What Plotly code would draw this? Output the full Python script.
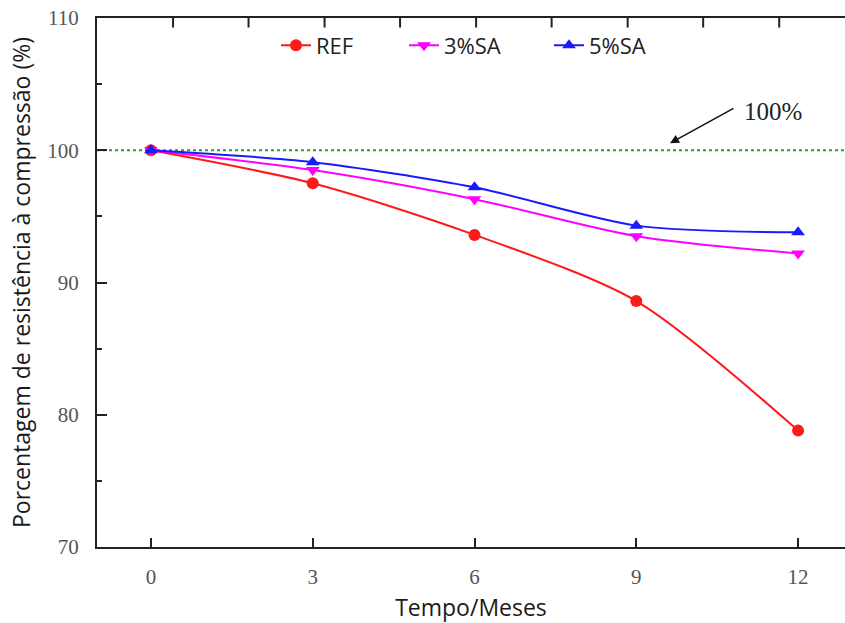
import plotly.graph_objects as go

months = [0, 3, 6, 9, 12]
ref = [100.0, 97.5, 93.6, 88.6, 78.8]
sa3 = [100.0, 98.5, 96.3, 93.5, 92.2]
sa5 = [100.0, 99.1, 97.2, 94.3, 93.8]
x_ticks = [0, 3, 6, 9, 12]
y_ticks = [70, 80, 90, 100, 110]
top_ticks = [0.41, 1.81, 3.22, 4.62, 6.03, 7.43, 8.84, 10.24, 11.65]

fig = go.Figure()

# 100% reference line
fig.add_trace(go.Scatter(x=[-1.0, 12.87], y=[100, 100], mode="lines",
                         line=dict(color="#2e9b2e", width=2, dash="dot"),
                         showlegend=False, hoverinfo="skip"))

series = [
    ("REF", ref, "#ff1a1a", "circle", "legend"),
    ("3%SA", sa3, "#ff00ff", "triangle-down", "legend2"),
    ("5%SA", sa5, "#1a1aff", "triangle-up", "legend3"),
]
for name, vals, col, sym, leg in series:
    fig.add_trace(go.Scatter(x=months, y=vals, name=name, mode="lines+markers",
                             legend=leg,
                             line=dict(color=col, width=2, shape="spline", smoothing=0.8),
                             marker=dict(color=col, symbol=sym, size=12)))

# top-axis tick marks (inside)
for t in top_ticks:
    fig.add_shape(type="line", xref="x", yref="paper", x0=t, x1=t, y0=1.0, y1=0.982,
                  layer="above", line=dict(color="#222222", width=2))

def px(p):
    return (p - 97) / 748.0

legfont = dict(family="Open Sans, sans-serif", size=22, color="#222")
legcommon = dict(orientation="h", y=0.988, xanchor="left", yanchor="top",
                 font=legfont, bgcolor="rgba(0,0,0,0)")

fig.update_layout(
    width=845, height=623,
    margin=dict(l=97, r=0, t=18, b=73),
    paper_bgcolor="white", plot_bgcolor="white",
    showlegend=True,
    legend=dict(x=px(276), **legcommon),
    legend2=dict(x=px(404), **legcommon),
    legend3=dict(x=px(549), **legcommon),
    xaxis=dict(range=[-1.0, 12.87], tickvals=x_ticks, ticktext=[str(v) for v in x_ticks],
               showgrid=False, zeroline=False, showline=True, mirror=True,
               linecolor="#222", linewidth=2,
               ticks="inside", ticklen=9, tickwidth=2, tickcolor="#222",
               ticklabelstandoff=10,
               tickfont=dict(family="Liberation Serif, serif", size=21, color="#555"),
               title=dict(text="Tempo/Meses", standoff=18,
                          font=dict(family="Open Sans, sans-serif", size=23, color="#1a1a1a"))),
    yaxis=dict(range=[70, 110], tickvals=y_ticks, ticktext=[str(v) for v in y_ticks],
               showgrid=False, zeroline=False, showline=True, linecolor="#222", linewidth=2,
               ticks="inside", ticklen=10, tickwidth=2, tickcolor="#222",
               minor=dict(ticks="inside", ticklen=5, dtick=5, tickwidth=2, tickcolor="#222"),
               ticklabelstandoff=12,
               tickfont=dict(family="Liberation Serif, serif", size=21, color="#555"),
               title=dict(text="Porcentagem de resistência à compressão (%)", standoff=10,
                          font=dict(family="Open Sans, sans-serif", size=23, color="#1a1a1a"))),
    annotations=[dict(x=9.625, y=100.53, xref="x", yref="y", ax=10.83, ay=103.23,
                      axref="x", ayref="y", text="", showarrow=True, arrowhead=2,
                      arrowsize=1.2, arrowwidth=1.5, arrowcolor="#111"),
                 dict(x=10.96, y=102.95, xref="x", yref="y", text="100%", showarrow=False,
                      xanchor="left", yanchor="middle",
                      font=dict(family="Liberation Serif, serif", size=25, color="#222"))],
)

fig.write_html("out.html")
